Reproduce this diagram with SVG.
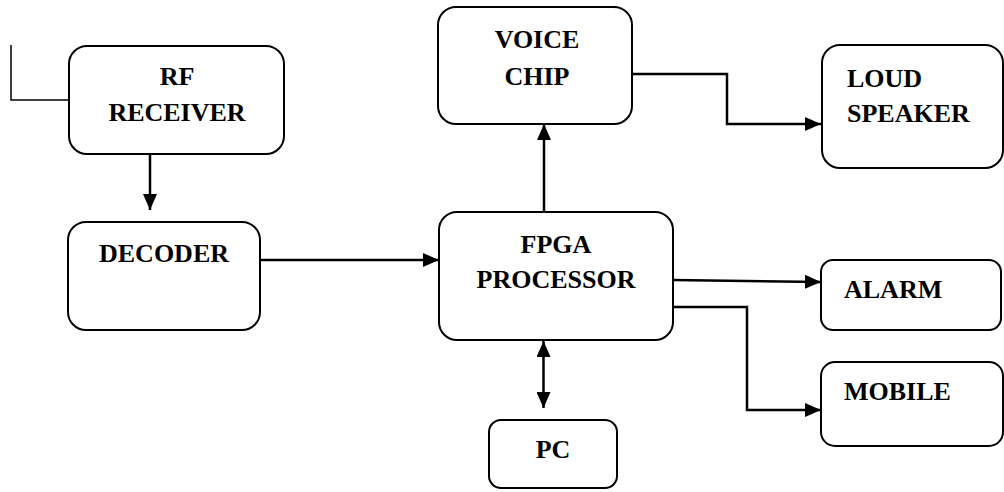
<svg xmlns="http://www.w3.org/2000/svg" width="1004" height="492" viewBox="0 0 1004 492">
<style>
.box{fill:#fff;stroke:#000;stroke-width:2}
.lbl{font-family:"Liberation Serif","Times New Roman",serif;font-weight:bold;font-size:26px;fill:#000}
.c{text-anchor:middle}
.con{fill:none;stroke:#000;stroke-width:2.5}
</style>
<defs>
<marker id="ah" markerUnits="userSpaceOnUse" markerWidth="16" markerHeight="14" refX="16" refY="7" orient="auto-start-reverse">
<path d="M0,0 L16,7 L0,14 z" fill="#000"/>
</marker>
</defs>
<rect width="1004" height="492" fill="#fff"/>
<g id="connectors">
<path d="M11,45 V100 H69" fill="none" stroke="#000" stroke-width="1.5"/>
<path class="con" d="M150,154 V210" marker-end="url(#ah)"/>
<path class="con" d="M260,260 H439" marker-end="url(#ah)"/>
<path class="con" d="M544,212 V124" marker-end="url(#ah)"/>
<path class="con" d="M632,74 H727 V124 H821" marker-end="url(#ah)"/>
<path class="con" d="M673,280 L821,282" marker-end="url(#ah)"/>
<path class="con" d="M673,307 H747 V410 H821" marker-end="url(#ah)"/>
<path class="con" d="M543.5,341 V408" marker-start="url(#ah)" marker-end="url(#ah)"/>
</g>
<g id="rf-receiver">
<rect class="box" x="69" y="46" width="215" height="108" rx="18"/>
<text class="lbl c" x="177" y="85">RF</text>
<text class="lbl c" x="177" y="121">RECEIVER</text>
</g>
<g id="decoder">
<rect class="box" x="68" y="222" width="192" height="108" rx="18"/>
<text class="lbl c" x="164" y="262">DECODER</text>
</g>
<g id="voice-chip">
<rect class="box" x="438" y="7" width="194" height="117" rx="18"/>
<text class="lbl c" x="537" y="48">VOICE</text>
<text class="lbl c" x="537" y="85">CHIP</text>
</g>
<g id="loud-speaker">
<rect class="box" x="822" y="45" width="181" height="123" rx="18"/>
<text class="lbl" x="847" y="87">LOUD</text>
<text class="lbl" x="847" y="122">SPEAKER</text>
</g>
<g id="fpga-processor">
<rect class="box" x="439" y="212" width="234" height="128" rx="18"/>
<text class="lbl c" x="556" y="253">FPGA</text>
<text class="lbl c" x="556" y="288">PROCESSOR</text>
</g>
<g id="alarm">
<rect class="box" x="821" y="260" width="180" height="70" rx="12"/>
<text class="lbl" x="844" y="298">ALARM</text>
</g>
<g id="mobile">
<rect class="box" x="821" y="362" width="182" height="84" rx="14"/>
<text class="lbl" x="844" y="400">MOBILE</text>
</g>
<g id="pc">
<rect class="box" x="489" y="420" width="128" height="68" rx="12"/>
<text class="lbl c" x="553" y="458">PC</text>
</g>
</svg>
